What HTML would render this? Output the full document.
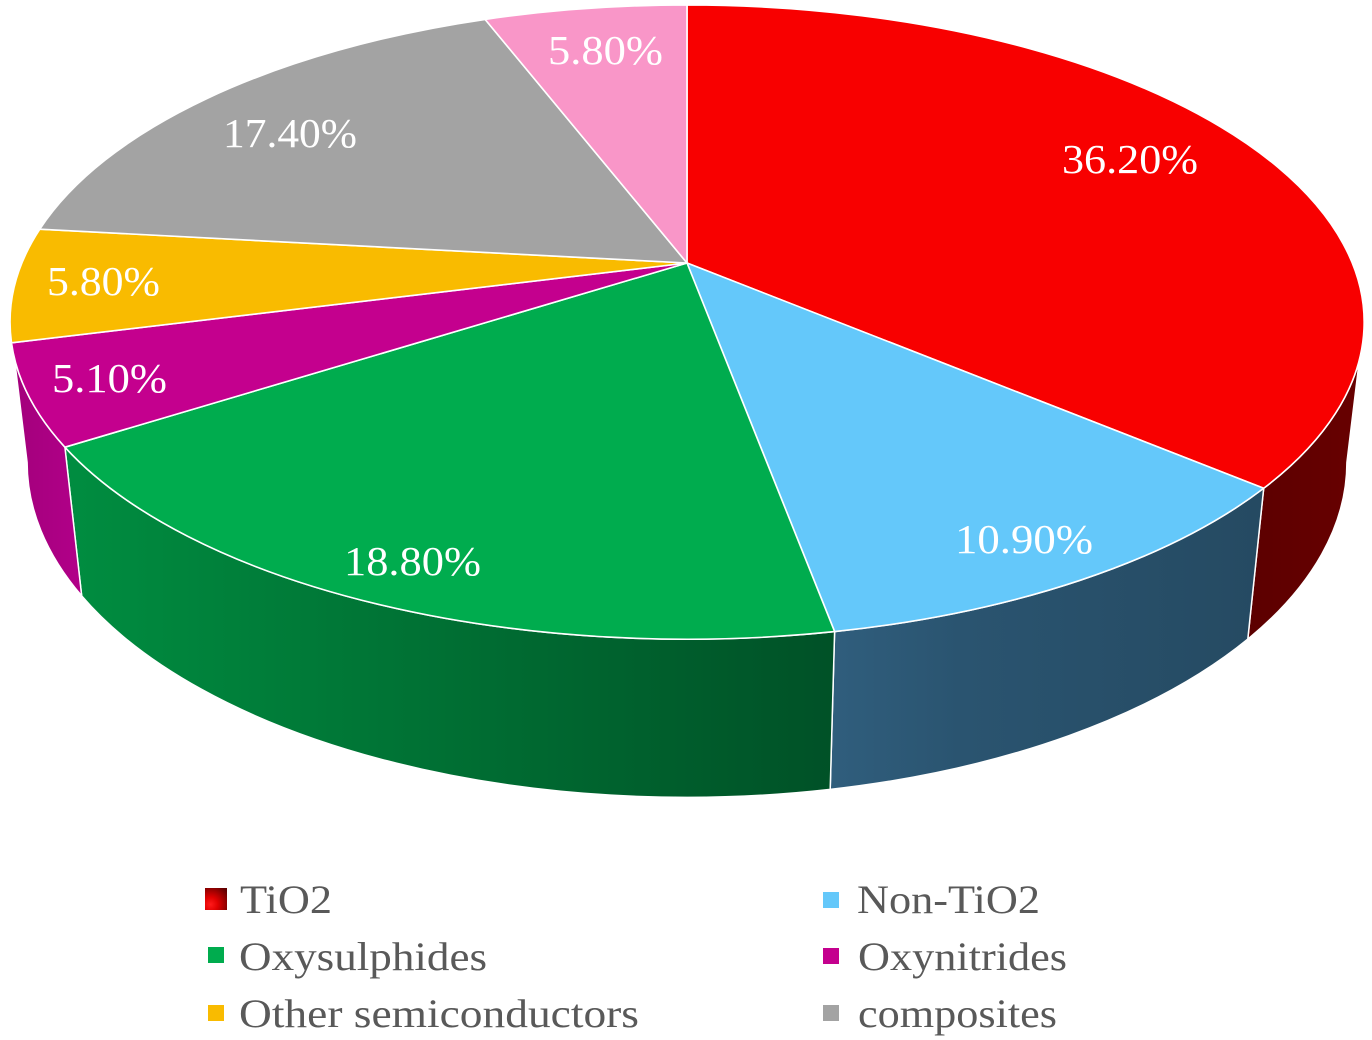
<!DOCTYPE html>
<html>
<head>
<meta charset="utf-8">
<style>
html,body{margin:0;padding:0;background:#ffffff;}
svg{display:block;}
</style>
</head>
<body>
<svg width="1372" height="1040" viewBox="0 0 1372 1040" xmlns="http://www.w3.org/2000/svg">
<defs>
<linearGradient id="gRedW" x1="0" y1="0" x2="1" y2="0">
<stop offset="0" stop-color="#5c0000"/><stop offset="1" stop-color="#680000"/>
</linearGradient>
<linearGradient id="gBlueW" x1="0" y1="0" x2="1" y2="0">
<stop offset="0" stop-color="#305e7d"/><stop offset="0.3" stop-color="#2a5470"/><stop offset="1" stop-color="#254a62"/>
</linearGradient>
<linearGradient id="gGreenW" x1="0" y1="0" x2="1" y2="0">
<stop offset="0" stop-color="#008d40"/><stop offset="0.5" stop-color="#006f33"/><stop offset="1" stop-color="#005127"/>
</linearGradient>
<linearGradient id="gMagW" x1="0" y1="0" x2="1" y2="0">
<stop offset="0" stop-color="#a2007b"/><stop offset="1" stop-color="#b20089"/>
</linearGradient>
<radialGradient id="gLeg" cx="0.25" cy="0.75" r="0.95">
<stop offset="0" stop-color="#ff1a1a"/><stop offset="0.35" stop-color="#e00000"/><stop offset="1" stop-color="#600000"/>
</radialGradient>
</defs>

<!-- side walls -->
<g stroke="#ffffff" stroke-width="1.5" stroke-linejoin="round">
<path d="M1364,322.2 A677,317.1 0 0,1 1263.7,488.3 L1247.8,639.1 A659.9,335 0 0,0 1346.9,462.5 Z" fill="url(#gRedW)"/>
<path d="M1263.7,488.3 A677,317.1 0 0,1 834.6,631.6 L830.2,789.4 A659.9,335 0 0,0 1247.8,639.1 Z" fill="url(#gBlueW)"/>
<path d="M834.6,631.6 A677,317.1 0 0,1 64.9,447.2 L81.7,595.9 A659.9,335 0 0,0 830.2,789.4 Z" fill="url(#gGreenW)"/>
<path d="M64.9,447.2 A677,317.1 0 0,1 10,322.2 L27.1,462.5 A659.9,335 0 0,0 81.7,595.9 Z" fill="url(#gMagW)"/>
</g>

<!-- top faces -->
<g stroke="#ffffff" stroke-width="1.6" stroke-linejoin="round">
<path d="M687,263 L687,5 A677,317.1 0 0,1 1263.7,488.3 Z" fill="#f80000"/>
<path d="M687,263 L1263.7,488.3 A677,317.1 0 0,1 834.6,631.6 Z" fill="#64c8fa"/>
<path d="M687,263 L834.6,631.6 A677,317.1 0 0,1 64.9,447.2 Z" fill="#00ac4e"/>
<path d="M687,263 L64.9,447.2 A677,317.1 0 0,1 11.5,342.8 Z" fill="#c4008e"/>
<path d="M687,263 L11.5,342.8 A677,317.1 0 0,1 39.8,229.2 Z" fill="#f9bb00"/>
<path d="M687,263 L39.8,229.2 A677,317.1 0 0,1 485.1,19.4 Z" fill="#a3a3a3"/>
<path d="M687,263 L485.1,19.4 A677,317.1 0 0,1 687,5 Z" fill="#f996c8"/>
</g>

<!-- data labels -->
<g font-family="'Liberation Serif', 'Times New Roman', serif" font-size="41.5" fill="#ffffff">
<text x="1062" y="173" textLength="136" lengthAdjust="spacingAndGlyphs">36.20%</text>
<text x="955" y="553" textLength="138" lengthAdjust="spacingAndGlyphs">10.90%</text>
<text x="344" y="575" textLength="137" lengthAdjust="spacingAndGlyphs">18.80%</text>
<text x="52" y="392" textLength="115" lengthAdjust="spacingAndGlyphs">5.10%</text>
<text x="47" y="295" textLength="113" lengthAdjust="spacingAndGlyphs">5.80%</text>
<text x="223" y="147" textLength="134" lengthAdjust="spacingAndGlyphs">17.40%</text>
<text x="548" y="64" textLength="115" lengthAdjust="spacingAndGlyphs">5.80%</text>
</g>

<!-- legend -->
<rect x="205" y="888" width="22" height="22" fill="url(#gLeg)"/>
<rect x="208" y="947" width="16" height="16" fill="#00ac4e"/>
<rect x="208" y="1005" width="16" height="16" fill="#f9bb00"/>
<rect x="823" y="892" width="16" height="16" fill="#64c8fa"/>
<rect x="823" y="948" width="16" height="16" fill="#c4008e"/>
<rect x="823" y="1005" width="16" height="16" fill="#a3a3a3"/>
<g font-family="'Liberation Serif', 'Times New Roman', serif" font-size="40" fill="#595959">
<text x="240" y="913" textLength="92" lengthAdjust="spacingAndGlyphs">TiO2</text>
<text x="239" y="970" textLength="248" lengthAdjust="spacingAndGlyphs">Oxysulphides</text>
<text x="239" y="1027" textLength="400" lengthAdjust="spacingAndGlyphs">Other semiconductors</text>
<text x="857" y="913" textLength="183" lengthAdjust="spacingAndGlyphs">Non-TiO2</text>
<text x="858" y="970" textLength="209" lengthAdjust="spacingAndGlyphs">Oxynitrides</text>
<text x="858" y="1027" textLength="199" lengthAdjust="spacingAndGlyphs">composites</text>
</g>
</svg>
</body>
</html>
